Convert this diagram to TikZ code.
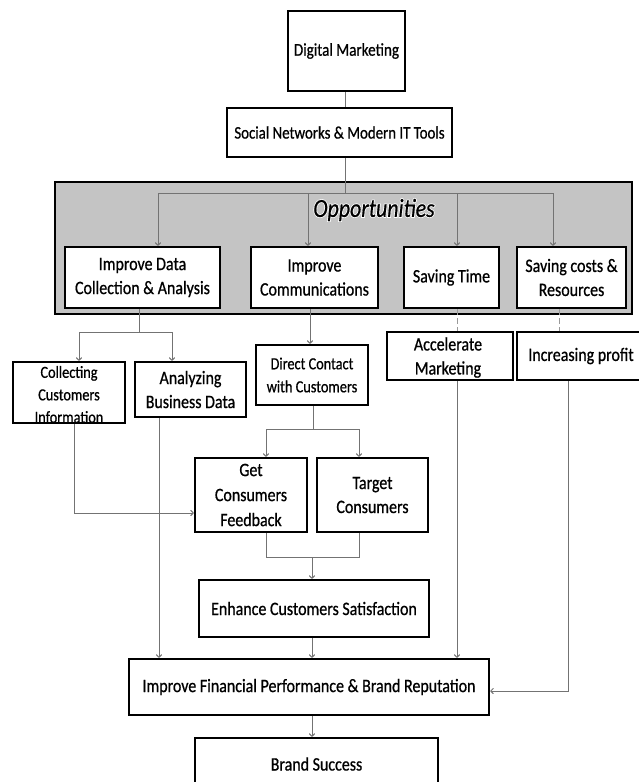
\documentclass[tikz,border=0pt]{standalone}
\usepackage{fontspec}
\setmainfont{Carlito}[FakeStretch=0.84,FakeBold=0.7]
\newfontfamily\halofont{Carlito}[FakeStretch=0.84,FakeBold=7]
\usetikzlibrary{arrows.meta}
\begin{document}
\begin{tikzpicture}[x=1pt,y=-1pt,
  box/.style={draw=black, line width=2.4pt, fill=white, inner sep=0pt, align=center,
    font=\fontsize{19}{24}\selectfont},
  graybox/.style={draw=black, line width=2.2pt, fill=black!23, inner sep=0pt},
  txt/.style={inner sep=0pt, align=center},
  opptext/.style={font=\fontsize{26}{28}\selectfont\itshape, inner sep=0pt},
  conn/.style={draw=black!55, line width=1pt},
  arr/.style={conn, -{To[length=3.5pt,width=6pt]}},
  dsh/.style={draw=black!40, line width=1pt, dash pattern=on 6pt off 3pt}]
\useasboundingbox[fill=white] (0,0) rectangle (638,782);

% top boxes
\node[box, minimum width=117, minimum height=80, font=\fontsize{18}{22}\selectfont] (DM) at (346.5,51) {Digital Marketing};
\node[box, minimum width=225, minimum height=49, font=\fontsize{17.7}{22}\selectfont] (SN) at (339.5,132.5) {Social Networks \& Modern IT Tools};

% opportunities panel
\node[graybox, minimum width=577, minimum height=132] (panel) at (343.5,248) {};
\node[opptext, text=white, font=\fontsize{26}{28}\halofont\itshape] (opphalo) at (374,210) {Opportunities};
\node[opptext] (opp) at (374,210) {Opportunities};

\node[box, minimum width=155, minimum height=61] (IDC) at (142.5,277.5) {Improve Data\\Collection \& Analysis};
\node[box, minimum width=127, minimum height=61] (IC) at (314.5,277.5) {Improve\\Communications};
\node[box, minimum width=95, minimum height=61] (ST) at (451.5,277.5) {Saving Time};
\node[box, minimum width=109, minimum height=61] (SCR) at (571.5,277.5) {Saving costs \&\\Resources};

% middle boxes
\node[box, minimum width=112, minimum height=61] (Coll) at (69,392.5) {};
\node[txt, font=\fontsize{17}{22.5}\selectfont] (CollT) at (69,394.5) {Collecting\\Customers\\Information};
\node[box, minimum width=111, minimum height=55] (Anal) at (190.5,389.5) {Analyzing\\Business Data};
\node[box, minimum width=112, minimum height=60, font=\fontsize{17}{23}\selectfont] (DC) at (312,375) {Direct Contact\\with Customers};
\node[box, minimum width=126, minimum height=48] (Acc) at (450,356) {};
\node[txt, font=\fontsize{19}{24}\selectfont] (AccT) at (448,357.5) {Accelerate\\Marketing};
\node[box, minimum width=128, minimum height=48] (Inc) at (581,356) {Increasing profit};
\node[box, minimum width=112, minimum height=74, font=\fontsize{19}{25}\selectfont] (Feed) at (251,495) {Get\\Consumers\\Feedback};
\node[box, minimum width=111, minimum height=74] (Targ) at (372.5,495) {Target\\Consumers};
\node[box, minimum width=230, minimum height=57] (Enh) at (314,608.5) {Enhance Customers Satisfaction};
\node[box, minimum width=360, minimum height=56] (IFP) at (309,687) {Improve Financial Performance \& Brand Reputation};
\node[box, minimum width=243, minimum height=52] (BS) at (316.5,764) {Brand Success};

% connectors
\coordinate (hub) at (345,193);
\draw[conn] (DM.south -| hub) -- (SN.north -| hub);
\draw[conn] (SN.south -| hub) -- (hub);
\draw[arr] (hub) -| ([xshift=15.5]IDC.north);
\draw[arr] (hub) -| ([xshift=-6.5]IC.north);
\draw[arr] (hub) -| ([xshift=5.5]ST.north);
\draw[arr] (hub) -| ([xshift=-18.5]SCR.north);

\coordinate (b1) at (139,332);
\draw[conn] (IDC.south -| b1) -- (b1);
\draw[arr] (b1) -| ([xshift=10]Coll.north);
\draw[arr] (b1) -| ([xshift=-18.5]Anal.north);

\draw[arr] ([xshift=-4.5]IC.south) -- ([xshift=-4.5]IC.south |- DC.north);

\coordinate (b2) at (313,429);
\draw[conn] (DC.south -| b2) -- (b2);
\draw[arr] (b2) -| ([xshift=15]Feed.north);
\draw[arr] (b2) -| ([xshift=-13.5]Targ.north);

\draw[dsh] ([xshift=5.5]ST.south) -- ([xshift=5.5]ST.south |- Acc.north);
\draw[dsh] ([xshift=-12.5]SCR.south) -- ([xshift=-12.5]SCR.south |- Inc.north);

\draw[arr] ([xshift=5]Coll.south) |- ([yshift=-18]Feed.west);
\draw[arr] ([xshift=-31.5]Anal.south) -- ([xshift=-31.5]Anal.south |- IFP.north);

\coordinate (b3) at (312,557);
\draw[conn] ([xshift=15]Feed.south) |- ([xshift=-13.5]Targ.south |- b3) -- ([xshift=-13.5]Targ.south);
\draw[arr] (b3) -- (b3 |- Enh.north);

\draw[arr] ([xshift=-2]Enh.south) -- ([xshift=-2]Enh.south |- IFP.north);
\draw[arr] ([xshift=7]Acc.south) -- ([xshift=7]Acc.south |- IFP.north);
\draw[arr] ([xshift=-13]Inc.south) |- ([yshift=-4]IFP.east);
\draw[arr] ([xshift=3]IFP.south) -- ([xshift=3]IFP.south |- BS.north);
\end{tikzpicture}
\end{document}
